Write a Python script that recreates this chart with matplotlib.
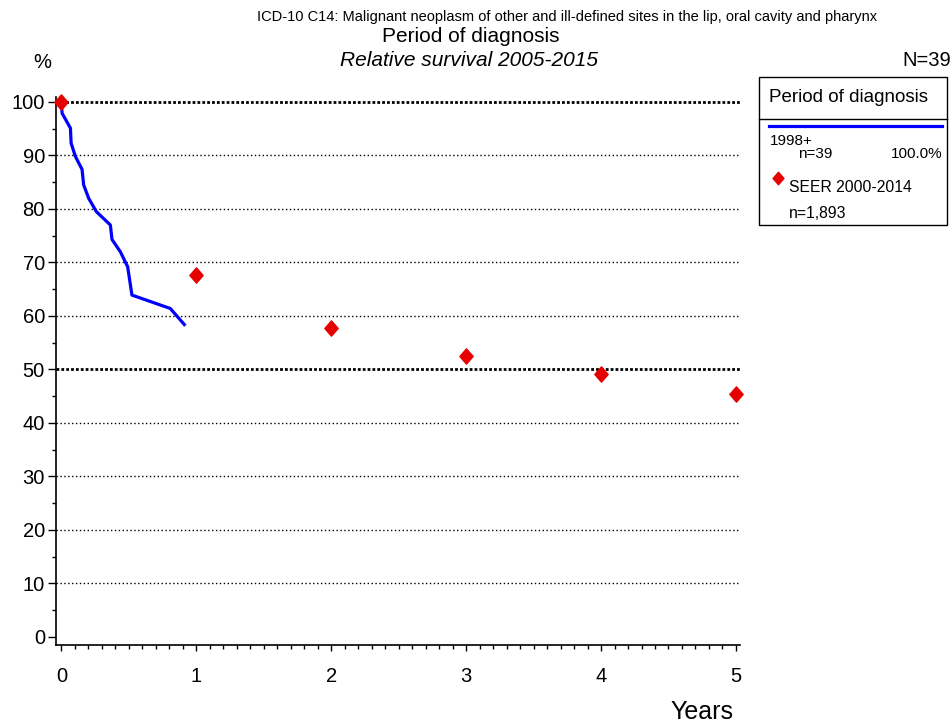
import matplotlib
matplotlib.use("Agg")
import matplotlib.pyplot as plt
from matplotlib.ticker import MultipleLocator
from matplotlib.patches import Rectangle
from matplotlib.lines import Line2D
from matplotlib.path import Path

plt.rcParams['font.family'] = ['Liberation Sans', 'DejaVu Sans']

# Data
curve_years = [0.0, 0.005, 0.067, 0.072, 0.104, 0.153, 0.165, 0.202, 0.259,
               0.363, 0.375, 0.437, 0.491, 0.523, 0.807, 0.911]
curve_surv = [100.0, 97.9, 95.1, 92.3, 89.8, 87.4, 84.5, 82.0, 79.5,
              77.0, 74.3, 72.0, 69.2, 63.9, 61.4, 58.4]
seer_years = [0, 1, 2, 3, 4, 5]
seer_surv = [100.0, 67.7, 57.8, 52.5, 49.2, 45.4]
y_ticks = [0, 10, 20, 30, 40, 50, 60, 70, 80, 90, 100]
x_ticks = [0, 1, 2, 3, 4, 5]

W, H = 952, 726
fig = plt.figure(figsize=(W / 100, H / 100), dpi=100)

def fx(px):
    return px / W

def fy(py):
    return 1 - py / H

diamond = Path([(0, 1), (0.87, 0), (0, -1), (-0.87, 0), (0, 1)],
               [Path.MOVETO, Path.LINETO, Path.LINETO, Path.LINETO, Path.CLOSEPOLY])

ax = fig.add_axes([fx(56), fy(645), fx(740) - fx(56), fy(96.6) - fy(645)])
ax.set_xlim(-0.04, 5.03)
ax.set_ylim(-1.5, 101)

for y in y_ticks[1:]:
    if y in (50, 100):
        ax.axhline(y, color='black', lw=2.0, ls=(0, (1, 0.75)), zorder=1)
    else:
        ax.axhline(y, color='black', lw=1.0, ls=(0, (1, 1.8)), zorder=1)

ax.plot(curve_years, curve_surv, color='#0000ff', lw=2.3, zorder=3)
ax.plot(seer_years, seer_surv, ls='none', marker=diamond, color='#e60000', ms=11,
        zorder=4, clip_on=False)

for s in ('top', 'right'):
    ax.spines[s].set_visible(False)
ax.spines['left'].set_linewidth(1.2)
ax.spines['bottom'].set_linewidth(1.2)
ax.set_xticks(x_ticks)
ax.set_yticks(y_ticks)
ax.xaxis.set_minor_locator(MultipleLocator(0.1))
ax.yaxis.set_minor_locator(MultipleLocator(5))
ax.tick_params(axis='y', which='major', length=6, width=1, labelsize=14.5, pad=2)
ax.tick_params(axis='y', which='minor', length=3, width=1)
ax.tick_params(axis='x', which='major', length=4, width=1, labelsize=14.5, pad=12)
ax.tick_params(axis='x', which='minor', length=3, width=1)

fig.text(fx(567), fy(17), 'ICD-10 C14: Malignant neoplasm of other and ill-defined sites in the lip, oral cavity and pharynx',
         ha='center', va='center', fontsize=10.5)
fig.text(fx(471), fy(37), 'Period of diagnosis', ha='center', va='center', fontsize=15)
fig.text(fx(469), fy(60), 'Relative survival 2005-2015', ha='center', va='center', fontsize=15, style='italic')
fig.text(fx(42), fy(63), '%', ha='center', va='center', fontsize=14.5)
fig.text(fx(951), fy(60), 'N=39', ha='right', va='center', fontsize=14.5)
fig.text(fx(702), fy(712), 'Years', ha='center', va='center', fontsize=18)

# Legend box
fig.patches.append(Rectangle((fx(759), fy(225)), fx(947) - fx(759), fy(77) - fy(225),
                             transform=fig.transFigure, fill=False, edgecolor='black', lw=1))
fig.lines.append(Line2D([fx(759), fx(947)], [fy(119), fy(119)], transform=fig.transFigure, color='black', lw=1))
fig.text(fx(769), fy(97), 'Period of diagnosis', ha='left', va='center', fontsize=13.5)
fig.lines.append(Line2D([fx(769), fx(942)], [fy(126), fy(126)], transform=fig.transFigure, color='#0000ff', lw=2.3))
fig.text(fx(770), fy(141), '1998+', ha='left', va='center', fontsize=11)
fig.text(fx(798), fy(154.5), 'n=39', ha='left', va='center', fontsize=11)
fig.text(fx(943), fy(154.5), '100.0%', ha='right', va='center', fontsize=11)
fig.lines.append(Line2D([fx(778)], [fy(177.5)], transform=fig.transFigure, marker=diamond,
                        color='#e60000', ms=9, ls='none'))
fig.text(fx(789), fy(187), 'SEER 2000-2014', ha='left', va='center', fontsize=11.3)
fig.text(fx(789), fy(214), 'n=1,893', ha='left', va='center', fontsize=11.3)

fig.savefig('out.png', dpi=100)
